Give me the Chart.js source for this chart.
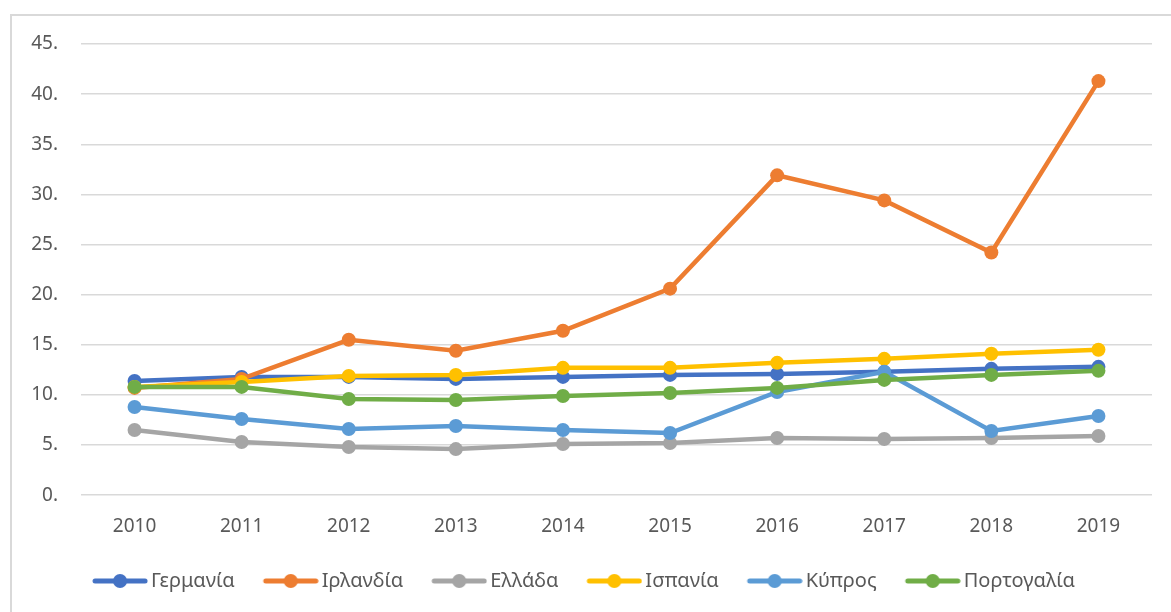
<!DOCTYPE html>
<html lang="el">
<head>
  <meta charset="UTF-8" />
  <title>Chart</title>
  <script src="https://cdn.jsdelivr.net/npm/chart.js"></script>
  <style>
    html, body {
      margin: 0;
      padding: 0;
      background: #fff;
      overflow: hidden;
    }
    .frame {
      position: absolute;
      left: 10px;
      top: 14px;
      width: 1200px;
      height: 700px;
      border: 2px solid #d9d9d9;
    }
    .wrap {
      position: absolute;
      left: 0;
      top: 0;
      width: 1171px;
      height: 612px;
    }
  </style>
</head>
<body>
  <div class="frame"></div>
  <div class="wrap"><canvas id="chart" width="1171" height="612"></canvas></div>

  <script>
    const years = ['2010', '2011', '2012', '2013', '2014', '2015', '2016', '2017', '2018', '2019'];
    const germany  = [11.4, 11.8, 11.8, 11.6, 11.8, 12.0, 12.1, 12.3, 12.6, 12.8];
    const ireland  = [10.7, 11.6, 15.5, 14.4, 16.4, 20.6, 31.9, 29.4, 24.2, 41.3];
    const greece   = [6.5, 5.3, 4.8, 4.6, 5.1, 5.2, 5.7, 5.6, 5.7, 5.9];
    const spain    = [10.8, 11.3, 11.9, 12.0, 12.7, 12.7, 13.2, 13.6, 14.1, 14.5];
    const cyprus   = [8.8, 7.6, 6.6, 6.9, 6.5, 6.2, 10.3, 12.3, 6.4, 7.9];
    const portugal = [10.8, 10.8, 9.6, 9.5, 9.9, 10.2, 10.7, 11.5, 12.0, 12.4];

    const names  = ['Γερμανία', 'Ιρλανδία', 'Ελλάδα', 'Ισπανία', 'Κύπρος', 'Πορτογαλία'];
    const series = [germany, ireland, greece, spain, cyprus, portugal];
    const colors = ['#4472C4', '#ED7D31', '#A5A5A5', '#FFC000', '#5B9BD5', '#70AD47'];

    // legend symbol: line with a dot, drawn at the right end of a wider
    // transparent strip so the text sits right next to it
    const symW = 78;
    function legendMarker(color) {
      const c = document.createElement('canvas');
      c.width = symW;
      c.height = 16;
      const g = c.getContext('2d');
      const x0 = symW - 56;
      g.strokeStyle = color;
      g.lineWidth = 5;
      g.lineCap = 'round';
      g.beginPath();
      g.moveTo(x0 + 3, 8);
      g.lineTo(x0 + 53, 8);
      g.stroke();
      g.fillStyle = color;
      g.beginPath();
      g.arc(x0 + 28, 8, 7, 0, Math.PI * 2);
      g.fill();
      return c;
    }
    const markers = colors.map(legendMarker);

    const datasets = series.map((data, i) => ({
      label: names[i],
      data,
      borderColor: colors[i],
      backgroundColor: colors[i],
      borderWidth: 4.5,
      pointRadius: 7,
      pointHoverRadius: 7,
      pointBorderWidth: 0,
      tension: 0,
      order: series.length - i
    }));

    const font = { family: "'Noto Sans', sans-serif", size: 19 };

    new Chart(document.getElementById('chart'), {
      type: 'line',
      data: { labels: years, datasets },
      options: {
        responsive: false,
        animation: false,
        layout: { padding: { top: 44, right: 19, left: 0, bottom: 11 } },
        plugins: {
          tooltip: { enabled: false },
          legend: {
            position: 'bottom',
            labels: {
              usePointStyle: true,
              pointStyleWidth: 64,
              padding: 13,
              color: '#595959',
              font: { family: "'Noto Sans', sans-serif", size: 20 },
              sort: (a, b) => a.datasetIndex - b.datasetIndex,
              generateLabels(chart) {
                const items = Chart.defaults.plugins.legend.labels.generateLabels(chart);
                items.forEach(it => { it.pointStyle = markers[it.datasetIndex]; });
                return items;
              }
            }
          }
        },
        scales: {
          x: {
            offset: true,
            grid: { display: false, drawTicks: false },
            border: { display: false },
            ticks: { color: '#595959', font, padding: 20, maxRotation: 0 }
          },
          y: {
            min: 0,
            max: 45,
            grid: { color: '#d9d9d9', lineWidth: 1.5, drawTicks: false },
            border: { display: false },
            ticks: {
              stepSize: 5,
              color: '#595959',
              font,
              padding: 23,
              callback: v => v + '.'
            },
            afterFit(scale) { scale.width = 81; }
          }
        }
      }
    });
  </script>
</body>
</html>
